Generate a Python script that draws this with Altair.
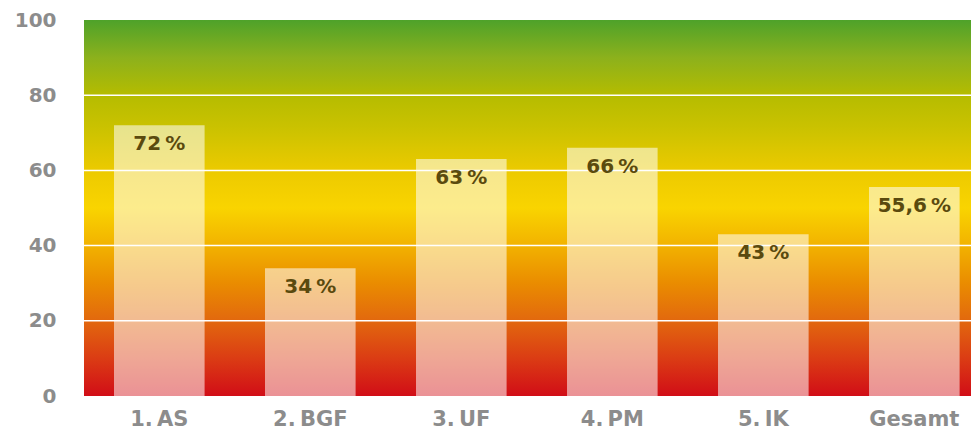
import altair as alt
import pandas as pd

categories = ["1.\u2009AS", "2.\u2009BGF", "3.\u2009UF", "4.\u2009PM", "5.\u2009IK", "Gesamt"]
values = [72, 34, 63, 66, 43, 55.6]
labels = ["72\u2009%", "34\u2009%", "63\u2009%", "66\u2009%", "43\u2009%", "55,6\u2009%"]
grid_values = [20, 40, 60, 80]
tick_values = [0, 20, 40, 60, 80, 100]

df = pd.DataFrame({"cat": categories, "value": values, "label": labels})
grid_df = pd.DataFrame({"g": grid_values})
bg_df = pd.DataFrame({"lo": [0], "hi": [100]})

FONT = "DejaVu Sans"

gradient = alt.Gradient(
    gradient="linear",
    x1=0, y1=1, x2=0, y2=0,
    stops=[
        alt.GradientStop(offset=0.0, color="#d10d17"),
        alt.GradientStop(offset=0.1, color="#db3c14"),
        alt.GradientStop(offset=0.2, color="#e2680e"),
        alt.GradientStop(offset=0.3, color="#ea8c00"),
        alt.GradientStop(offset=0.4, color="#f2b200"),
        alt.GradientStop(offset=0.5, color="#f9d400"),
        alt.GradientStop(offset=0.6, color="#ecca00"),
        alt.GradientStop(offset=0.7, color="#cec300"),
        alt.GradientStop(offset=0.8, color="#b5bc00"),
        alt.GradientStop(offset=0.9, color="#8cb11c"),
        alt.GradientStop(offset=1.0, color="#4ea22a"),
    ],
)

yscale = alt.Scale(domain=[0, 100], nice=False)
xscale = alt.Scale(paddingInner=0.4, paddingOuter=0.137, align=0.725)

x_enc = alt.X(
    "cat:N", sort=categories, scale=xscale, title=None,
    axis=alt.Axis(labelAngle=0, domain=False, ticks=False, labelPadding=12,
                  labelFont=FONT, labelFontWeight="bold", labelFontSize=21,
                  labelColor="#8c8c8c"),
)

bg = alt.Chart(bg_df).mark_rect(color=gradient).encode(
    x=alt.value(0), x2=alt.value("width"),
    y=alt.Y("lo:Q", scale=yscale), y2="hi:Q",
)

bars = alt.Chart(df).mark_bar(color="white", opacity=0.55).encode(
    x=x_enc,
    y=alt.Y("value:Q", scale=yscale, title=None,
            axis=alt.Axis(values=tick_values, grid=False, domain=False, ticks=False,
                          labelPadding=28, labelFont=FONT, labelFontWeight="bold",
                          labelFontSize=20, labelColor="#8c8c8c")),
)

grid = alt.Chart(grid_df).mark_rule(color="white", strokeWidth=1.5).encode(
    y=alt.Y("g:Q", scale=yscale),
)

text = alt.Chart(df).mark_text(
    baseline="top", dy=9, font=FONT, fontWeight="bold", fontSize=20, color="#5a4a0e",
).encode(
    x=alt.X("cat:N", sort=categories, scale=xscale),
    y=alt.Y("value:Q", scale=yscale),
    text="label:N",
)

chart = alt.layer(bg, bars, grid, text).properties(
    width=887, height=376,
    autosize=alt.AutoSizeParams(type="none"),
    padding={"left": 76, "top": 12, "right": 0, "bottom": 34},
).configure_view(stroke=None)

chart.save("out.html", embed_options={"renderer": "svg", "actions": False})
